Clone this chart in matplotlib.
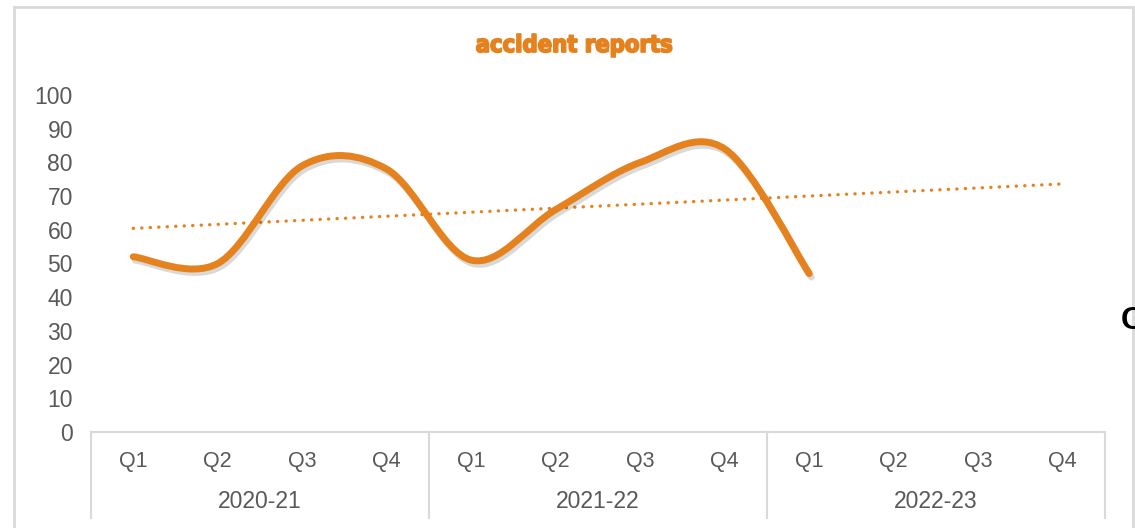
import matplotlib.pyplot as plt
import matplotlib.patheffects as pe
from matplotlib.path import Path
from matplotlib.patches import PathPatch, Rectangle
import matplotlib.transforms as mtrans
import numpy as np

# data
years = ['2020-21', '2021-22', '2022-23']
quarters = ['Q1', 'Q2', 'Q3', 'Q4']
reports = [52, 50, 79, 78, 51, 66, 80, 84, 47]
title = 'accident reports'

orange = '#E6821E'
grey_txt = '#595959'
grey_line = '#D9D9D9'
fam = ['Liberation Sans', 'DejaVu Sans']

W, H = 1135, 528
fig = plt.figure(figsize=(W / 100, H / 100), dpi=100)

# plot area in pixels (left, top, right, bottom)
L, T, R, B = 91, 95, 1105, 432
ax = fig.add_axes([L / W, 1 - B / H, (R - L) / W, (B - T) / H])

labels = [q for y in years for q in quarters]
n = len(labels)
ax.set_xlim(-0.5, n - 0.5)
ax.set_ylim(0, 100)
for s in ax.spines.values():
    s.set_visible(False)
ax.set_yticks(range(0, 101, 10))
ax.tick_params(axis='y', length=0, pad=13, labelsize=16.5, labelcolor=grey_txt)
ax.set_xticks(range(n))
ax.set_xticklabels(labels)
ax.tick_params(axis='x', length=0, pad=14, labelsize=15.5, labelcolor=grey_txt)
for lab in ax.get_xticklabels() + ax.get_yticklabels():
    lab.set_fontfamily(fam)

# smoothed line like Excel (Catmull-Rom bezier)
x = np.arange(len(reports), dtype=float)
y = np.array(reports, dtype=float)
px = np.concatenate([[x[0]], x, [x[-1]]])
py = np.concatenate([[y[0]], y, [y[-1]]])
verts = [(x[0], y[0])]
codes = [Path.MOVETO]
for i in range(1, len(px) - 2):
    c1 = (px[i] + (px[i + 1] - px[i - 1]) / 6, py[i] + (py[i + 1] - py[i - 1]) / 6)
    c2 = (px[i + 1] - (px[i + 2] - px[i]) / 6, py[i + 1] - (py[i + 2] - py[i]) / 6)
    verts += [c1, c2, (px[i + 1], py[i + 1])]
    codes += [Path.CURVE4] * 3
patch = PathPatch(Path(verts, codes), facecolor='none', edgecolor=orange, lw=5,
                  capstyle='round', joinstyle='round', zorder=4)
patch.set_path_effects([pe.SimpleLineShadow(offset=(1.5, -2.5), shadow_color='#000000', alpha=0.15),
                        pe.Normal()])
patch.set_clip_on(False)
ax.add_patch(patch)

# linear trendline extended over all quarters
k, b0 = np.polyfit(x, y, 1)
xt = np.arange(n)
ax.plot(xt, k * xt + b0, color=orange, lw=2.4, linestyle=(0, (0.05, 2.5)),
        dash_capstyle='round', zorder=3)

# category axis box
tr = mtrans.blended_transform_factory(ax.transData, fig.transFigure)
ax.plot([-0.5, n - 0.5], [0, 0], color=grey_line, lw=1.5, clip_on=False, zorder=2)
for i in range(len(years) + 1):
    xb = i * 4 - 0.5
    fig.add_artist(plt.Line2D([xb, xb], [1 - B / H, 1 - 518 / H], transform=tr,
                              color=grey_line, lw=1.5))
for i, yr in enumerate(years):
    fig.text(i * 4 + 1.5, 1 - 502 / H, yr, transform=tr, ha='center', va='center',
             fontsize=16.5, color=grey_txt, family=fam)

# title (heavy, condensed look)
fig.text(574 / W, 1 - 45 / H, title, ha='center', va='center', fontsize=17,
         fontweight='bold', fontstretch='condensed', color=orange,
         family=['DejaVu Sans'],
         path_effects=[pe.withStroke(linewidth=1.3, foreground=orange)])

# chart border
fig.add_artist(Rectangle((14 / W, -0.05), (1133 - 14) / W, 1.05 - 7 / H,
                         transform=fig.transFigure, fill=False,
                         edgecolor=grey_line, lw=2))

# cut-off letter at the right edge
fig.text(1121 / W, 1 - 321 / H, 'C', ha='left', va='center', fontsize=23,
         fontweight='bold', color='black', family=fam)

fig.savefig('out.png', dpi=100)
